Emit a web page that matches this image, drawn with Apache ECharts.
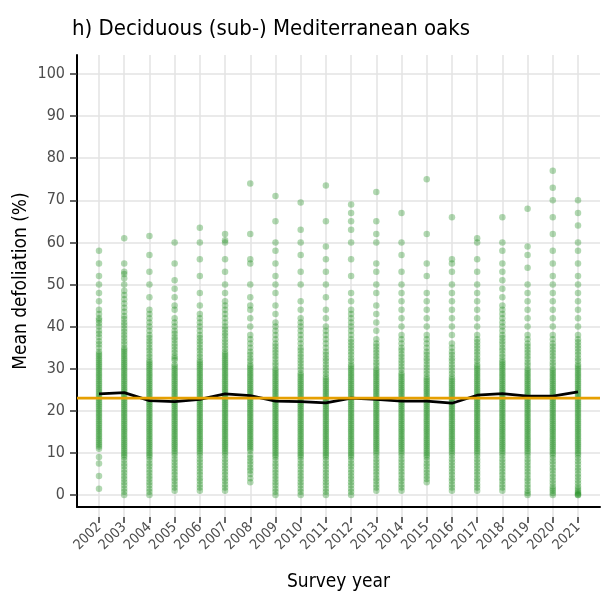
<!DOCTYPE html>
<html>
<head>
<meta charset="utf-8">
<script src="https://cdn.jsdelivr.net/npm/echarts@6/dist/echarts.min.js"></script>
<style>
html,body{margin:0;padding:0;background:#fff;}
#chart{width:605px;height:597px;}
</style>
</head>
<body>
<div id="chart"></div>
<script>
const years = ['2002','2003','2004','2005','2006','2007','2008','2009','2010','2011','2012','2013','2014','2015','2016','2017','2018','2019','2020','2021'];
const yTicks = [0,10,20,30,40,50,60,70,80,90,100];

const d2002 = [1.5,4.5,7.5,9,11,11.5,12,12.5,13,13.5,14,14.5,15,15.5,16,16.5,17,17.5,18,18.5,19,19.5,20,20.5,21,21.5,22,22.5,23,23.5,24,24.5,25,25.5,26,26.5,27,27.5,28,28.5,29,29.5,30,30.5,31,31.5,32,32.5,33,33.5,34,35,35.8,36.5,37.5,38.3,39,40,40.8,41.5,42,43,44,46,48,50,52,55,58];
const d2003 = [0,0.8,1.5,2.3,3,3.8,4.5,5.3,6,6.8,7.5,8.3,9,9.5,10,10.5,11,11.5,12,12.5,13,13.5,14,14.5,15,15.5,16,16.5,17,17.5,18,18.5,19,19.5,20,20.5,21,21.5,22,22.5,23,23.5,24,24.5,25,25.5,26,26.5,27,27.5,28,28.5,29,29.5,30,30.5,31,31.5,32,32.5,33,33.5,34,34.5,35,35.8,36.5,37.3,38,38.8,39.5,40.3,41,41.8,42.5,43.5,44.5,45.5,46.5,47.5,48.5,50,51.5,52.5,53,55,61];
const d2004 = [0,0.8,1.5,2.3,3,3.8,4.5,5.3,6,6.8,7.5,8.3,9,9.5,10,10.5,11,11.5,12,12.5,13,13.5,14,14.5,15,15.5,16,16.5,17,17.5,18,18.5,19,19.5,20,20.5,21,21.5,22,22.5,23,23.5,24,24.5,25,25.5,26,26.5,27,27.5,28,28.5,29,29.5,30,30.5,31,31.5,32,32.8,33.5,34.3,35,35.8,36.5,37.3,38,39,40,41,42,43,44,47,50,53,57,61.5];
const d2005 = [1,1.8,2.5,3.3,4,4.8,5.5,6.3,7,7.8,8.5,9.3,10,10.5,11,11.5,12,12.5,13,13.5,14,14.5,15,15.5,16,16.5,17,17.5,18,18.5,19,19.5,20,20.5,21,21.5,22,22.5,23,23.5,24,24.5,25,25.5,26,26.5,27,27.5,28,28.5,29,29.5,30,30.5,31,32,32.5,33,33.8,34.5,35.3,36,36.8,37.5,38.3,39,40,41,42,44,45,47,49,51,55,60];
const d2006 = [1,1.8,2.5,3.3,4,4.8,5.5,6.3,7,7.8,8.5,9.3,10,10.5,11,11.5,12,12.5,13,13.5,14,14.5,15,15.5,16,16.5,17,17.5,18,18.5,19,19.5,20,20.5,21,21.5,22,22.5,23,23.5,24,24.5,25,25.5,26,26.5,27,27.5,28,28.5,29,29.5,30,30.5,31,31.5,32,32.8,33.5,34.3,35,35.8,36.5,37.3,38,39,40,41,42,43,45,48,52,56,60,63.5];
const d2007 = [1,1.8,2.5,3.3,4,4.8,5.5,6.3,7,7.8,8.5,9.3,10,10.5,11,11.5,12,12.5,13,13.5,14,14.5,15,15.5,16,16.5,17,17.5,18,18.5,19,19.5,20,20.5,21,21.5,22,22.5,23,23.5,24,24.5,25,25.5,26,26.5,27,27.5,28,28.5,29,29.5,30,30.5,31,31.5,32,32.5,33,33.5,34,34.8,35.5,36.3,37,37.8,38.5,39.3,40,41,42,43,44,45,46,48,50,53,56,60,60.5,62];
const d2008 = [3,4,5,5.8,6.5,7.3,8,8.8,9.5,10.5,11,11.5,12,12.5,13,13.5,14,14.5,15,15.5,16,16.5,17,17.5,18,18.5,19,19.5,20,20.5,21,21.5,22,22.5,23,23.5,24,24.5,25,25.5,26,26.5,27,27.5,28,28.5,29,29.5,30,30.5,31,31.8,32.5,33.3,34,35,36,37,38,40,42,44,45,47,50,55,56,62,74];
const d2009 = [0,0.8,1.5,2.3,3,3.8,4.5,5.3,6,6.8,7.5,8.3,9,9.5,10,10.5,11,11.5,12,12.5,13,13.5,14,14.5,15,15.5,16,16.5,17,17.5,18,18.5,19,19.5,20,20.5,21,21.5,22,22.5,23,23.5,24,24.5,25,25.5,26,26.5,27,27.5,28,28.5,29,29.5,30,30.8,31.5,32.3,33,33.8,34.5,35.3,36,37,38,39,40,41,43,45,48,50,52,55,58,60,65,71];
const d2010 = [0,0.8,1.5,2.3,3,3.8,4.5,5.3,6,6.8,7.5,8.3,9,9.5,10,10.5,11,11.5,12,12.5,13,13.5,14,14.5,15,15.5,16,16.5,17,17.5,18,18.5,19,19.5,20,20.5,21,21.5,22,22.5,23,23.5,24,24.5,25,25.5,26,26.5,27,27.5,28,28.5,29,29.8,30.5,31.3,32,32.8,33.5,34.3,35,36,37,38,39,40,41,42,44,46,50,53,57,60,63,69.5];
const d2011 = [0,0.8,1.5,2.3,3,3.8,4.5,5.3,6,6.8,7.5,8.3,9,9.5,10,10.5,11,11.5,12,12.5,13,13.5,14,14.5,15,15.5,16,16.5,17,17.5,18,18.5,19,19.5,20,20.5,21,21.5,22,22.5,23,23.5,24,24.5,25,25.5,26,26.5,27,27.5,28,28.8,29.5,30.3,31,31.8,32.5,33.3,34,35,36,37,38,39,40,42,44,47,50,53,56,59,65,73.5];
const d2012 = [0,0.8,1.5,2.3,3,3.8,4.5,5.3,6,6.8,7.5,8.3,9,9.5,10,10.5,11,11.5,12,12.5,13,13.5,14,14.5,15,15.5,16,16.5,17,17.5,18,18.5,19,19.5,20,20.5,21,21.5,22,22.5,23,23.5,24,24.5,25,25.5,26,26.5,27,27.5,28,28.5,29,29.5,30,30.5,31,31.8,32.5,33.3,34,34.8,35.5,36.3,37,38,39,40,41,42,43,44,46,48,52,56,60,63,65,67,69];
const d2013 = [1,1.8,2.5,3.3,4,4.8,5.5,6.3,7,7.8,8.5,9.3,10,10.5,11,11.5,12,12.5,13,13.5,14,14.5,15,15.5,16,16.5,17,17.5,18,18.5,19,19.5,20,20.5,21,21.5,22,22.5,23,23.5,24,24.5,25,25.5,26,26.5,27,27.5,28,28.5,29,29.5,30,30.8,31.5,32.3,33,33.8,34.5,35.3,36,37,39,41,43,45,48,50,53,55,60,62,65,72];
const d2014 = [1,1.8,2.5,3.3,4,4.8,5.5,6.3,7,7.8,8.5,9.3,10,10.5,11,11.5,12,12.5,13,13.5,14,14.5,15,15.5,16,16.5,17,17.5,18,18.5,19,19.5,20,20.5,21,21.5,22,22.5,23,23.5,24,24.5,25,25.5,26,26.5,27,27.5,28,28.5,29,29.8,30.5,31.3,32,32.8,33.5,34.3,35,36,37,38,40,42,44,46,48,50,53,57,60,67];
const d2015 = [3,3.8,4.5,5.3,6,6.8,7.5,8.3,9,9.5,10,10.5,11,11.5,12,12.5,13,13.5,14,14.5,15,15.5,16,16.5,17,17.5,18,18.5,19,19.5,20,20.5,21,21.5,22,22.5,23,23.5,24,24.5,25,25.5,26,26.5,27,27.5,28,28.8,29.5,30.3,31,31.8,32.5,33.3,34,35,36,37,38,40,42,44,46,48,52,55,62,75];
const d2016 = [1,1.8,2.5,3.3,4,4.8,5.5,6.3,7,7.8,8.5,9.3,10,10.5,11,11.5,12,12.5,13,13.5,14,14.5,15,15.5,16,16.5,17,17.5,18,18.5,19,19.5,20,20.5,21,21.5,22,22.5,23,23.5,24,24.5,25,25.5,26,26.5,27,27.5,28,28.8,29.5,30.3,31,31.8,32.5,33.3,34,35,36,38,40,42,44,46,48,50,53,55,56,66];
const d2017 = [1,1.8,2.5,3.3,4,4.8,5.5,6.3,7,7.8,8.5,9.3,10,10.5,11,11.5,12,12.5,13,13.5,14,14.5,15,15.5,16,16.5,17,17.5,18,18.5,19,19.5,20,20.5,21,21.5,22,22.5,23,23.5,24,24.5,25,25.5,26,26.5,27,27.5,28,28.5,29,29.5,30,30.5,31,31.8,32.5,33.3,34,34.8,35.5,36.3,37,38,40,42,44,46,48,50,53,56,60,61];
const d2018 = [1,1.8,2.5,3.3,4,4.8,5.5,6.3,7,7.8,8.5,9.3,10,10.5,11,11.5,12,12.5,13,13.5,14,14.5,15,15.5,16,16.5,17,17.5,18,18.5,19,19.5,20,20.5,21,21.5,22,22.5,23,23.5,24,24.5,25,25.5,26,26.5,27,27.5,28,28.5,29,29.5,30,30.5,31,31.5,32,32.8,33.5,34.3,35,35.8,36.5,37.3,38,39,40,41,42,43,44,45,47,49,51,53,55,58,60,66];
const d2019 = [0,0.5,1,1.8,2.5,3.3,4,4.8,5.5,6.3,7,7.8,8.5,9.3,10,10.5,11,11.5,12,12.5,13,13.5,14,14.5,15,15.5,16,16.5,17,17.5,18,18.5,19,19.5,20,20.5,21,21.5,22,22.5,23,23.5,24,24.5,25,25.5,26,26.5,27,27.5,28,28.5,29,29.5,30,30.8,31.5,32.3,33,33.8,34.5,35.3,36,37,38,40,42,44,46,48,50,54,57,59,68];
const d2020 = [0,0.5,1,1.5,2,2.8,3.5,4.3,5,5.8,6.5,7.3,8,8.8,9.5,10,10.5,11,11.5,12,12.5,13,13.5,14,14.5,15,15.5,16,16.5,17,17.5,18,18.5,19,19.5,20,20.5,21,21.5,22,22.5,23,23.5,24,24.5,25,25.5,26,26.5,27,27.5,28,28.5,29,29.5,30,30.8,31.5,32.3,33,33.8,34.5,35.3,36,37,38,40,42,44,46,48,50,52,55,58,62,66,70,73,77];
const d2021 = [0,0,0.3,0.6,1,1.5,2,2.8,3.5,4.3,5,5.8,6.5,7.3,8,8.8,9.5,10,10.5,11,11.5,12,12.5,13,13.5,14,14.5,15,15.5,16,16.5,17,17.5,18,18.5,19,19.5,20,20.5,21,21.5,22,22.5,23,23.5,24,24.5,25,25.5,26,26.5,27,27.5,28,28.5,29,29.5,30,30.5,31,31.8,32.5,33.3,34,34.8,35.5,36.3,37,38,40,42,44,46,48,50,52,55,58,60,64,67,70];

const yearValues = [d2002,d2003,d2004,d2005,d2006,d2007,d2008,d2009,d2010,d2011,d2012,d2013,d2014,d2015,d2016,d2017,d2018,d2019,d2020,d2021];
const meanValues = [24.0,24.3,22.4,22.2,22.7,24.0,23.6,22.3,22.2,21.9,23.0,22.7,22.3,22.3,21.8,23.7,24.1,23.5,23.5,24.5];
const overallMean = 23.0;

const scatterData = [];
yearValues.forEach((arr, i) => arr.forEach(v => scatterData.push([years[i], v])));

const FONT = "'Liberation Sans Narrow','DejaVu Sans Condensed','Roboto',sans-serif";
const GRID_COLOR = '#e3e3e3';

const chart = echarts.init(document.getElementById('chart'));
chart.setOption({
  animation: false,
  backgroundColor: '#fff',
  title: {
    text: 'h) Deciduous (sub-) Mediterranean oaks',
    left: 67, top: 13,
    textStyle: {fontFamily: FONT, fontSize: 22, fontWeight: 'normal', color: '#000'}
  },
  grid: [
    {left: 77, right: 5, top: 55, bottom: 80},
    {left: 77, right: 5, top: 74, bottom: 102},
    {left: 99, right: 27, top: 55, bottom: 80},
    {left: 99, right: 27, top: 74, bottom: 102}
  ],
  xAxis: [
    {gridIndex: 0, type: 'value', min: 0, max: 1, axisLine: {show: true, onZero: false, lineStyle: {color: '#000', width: 2}}, axisTick: {show: false}, axisLabel: {show: false}, splitLine: {show: false},
     name: 'Survey year', nameLocation: 'middle', nameGap: 66, nameTextStyle: {fontFamily: FONT, fontSize: 19, color: '#000'}},
    {gridIndex: 1, type: 'value', min: 0, max: 1, show: false},
    {gridIndex: 2, type: 'category', data: years, boundaryGap: false,
     axisLine: {show: false}, axisTick: {show: true, alignWithLabel: true, length: 6, lineStyle: {color: '#333', width: 1.5}},
     axisLabel: {rotate: 45, fontFamily: FONT, fontSize: 14, color: '#4d4d4d', margin: 8, interval: 0},
     splitLine: {show: true, lineStyle: {color: GRID_COLOR, width: 1.5}}},
    {gridIndex: 3, type: 'category', data: years, boundaryGap: false, show: false}
  ],
  yAxis: [
    {gridIndex: 0, type: 'value', min: 0, max: 1, axisLine: {show: true, onZero: false, lineStyle: {color: '#000', width: 2}}, axisTick: {show: false}, axisLabel: {show: false}, splitLine: {show: false},
     name: 'Mean defoliation (%)', nameLocation: 'middle', nameGap: 46, nameTextStyle: {fontFamily: FONT, fontSize: 19, color: '#000'}},
    {gridIndex: 1, type: 'value', min: yTicks[0], max: yTicks[yTicks.length-1], interval: 10,
     axisLine: {show: false}, axisTick: {show: true, length: 7, lineStyle: {color: '#333', width: 1.5}},
     axisLabel: {fontFamily: FONT, fontSize: 16, color: '#4d4d4d', margin: 12},
     splitLine: {show: true, lineStyle: {color: GRID_COLOR, width: 1.5}}},
    {gridIndex: 2, type: 'value', min: 0, max: 1, show: false},
    {gridIndex: 3, type: 'value', min: 0, max: 100, show: false}
  ],
  series: [
    {type: 'scatter', xAxisIndex: 3, yAxisIndex: 3, data: scatterData, symbolSize: 6.5,
     itemStyle: {color: '#1f8f1f', opacity: 0.35}, z: 3, silent: true},
    {type: 'line', xAxisIndex: 3, yAxisIndex: 3, data: meanValues, symbol: 'none',
     lineStyle: {color: '#000', width: 2.8}, z: 4, silent: true},
    {type: 'line', xAxisIndex: 1, yAxisIndex: 1, data: [[0, overallMean],[1, overallMean]], symbol: 'none',
     lineStyle: {color: '#E69F00', width: 2.8}, z: 5, silent: true}
  ]
});
</script>
</body>
</html>
